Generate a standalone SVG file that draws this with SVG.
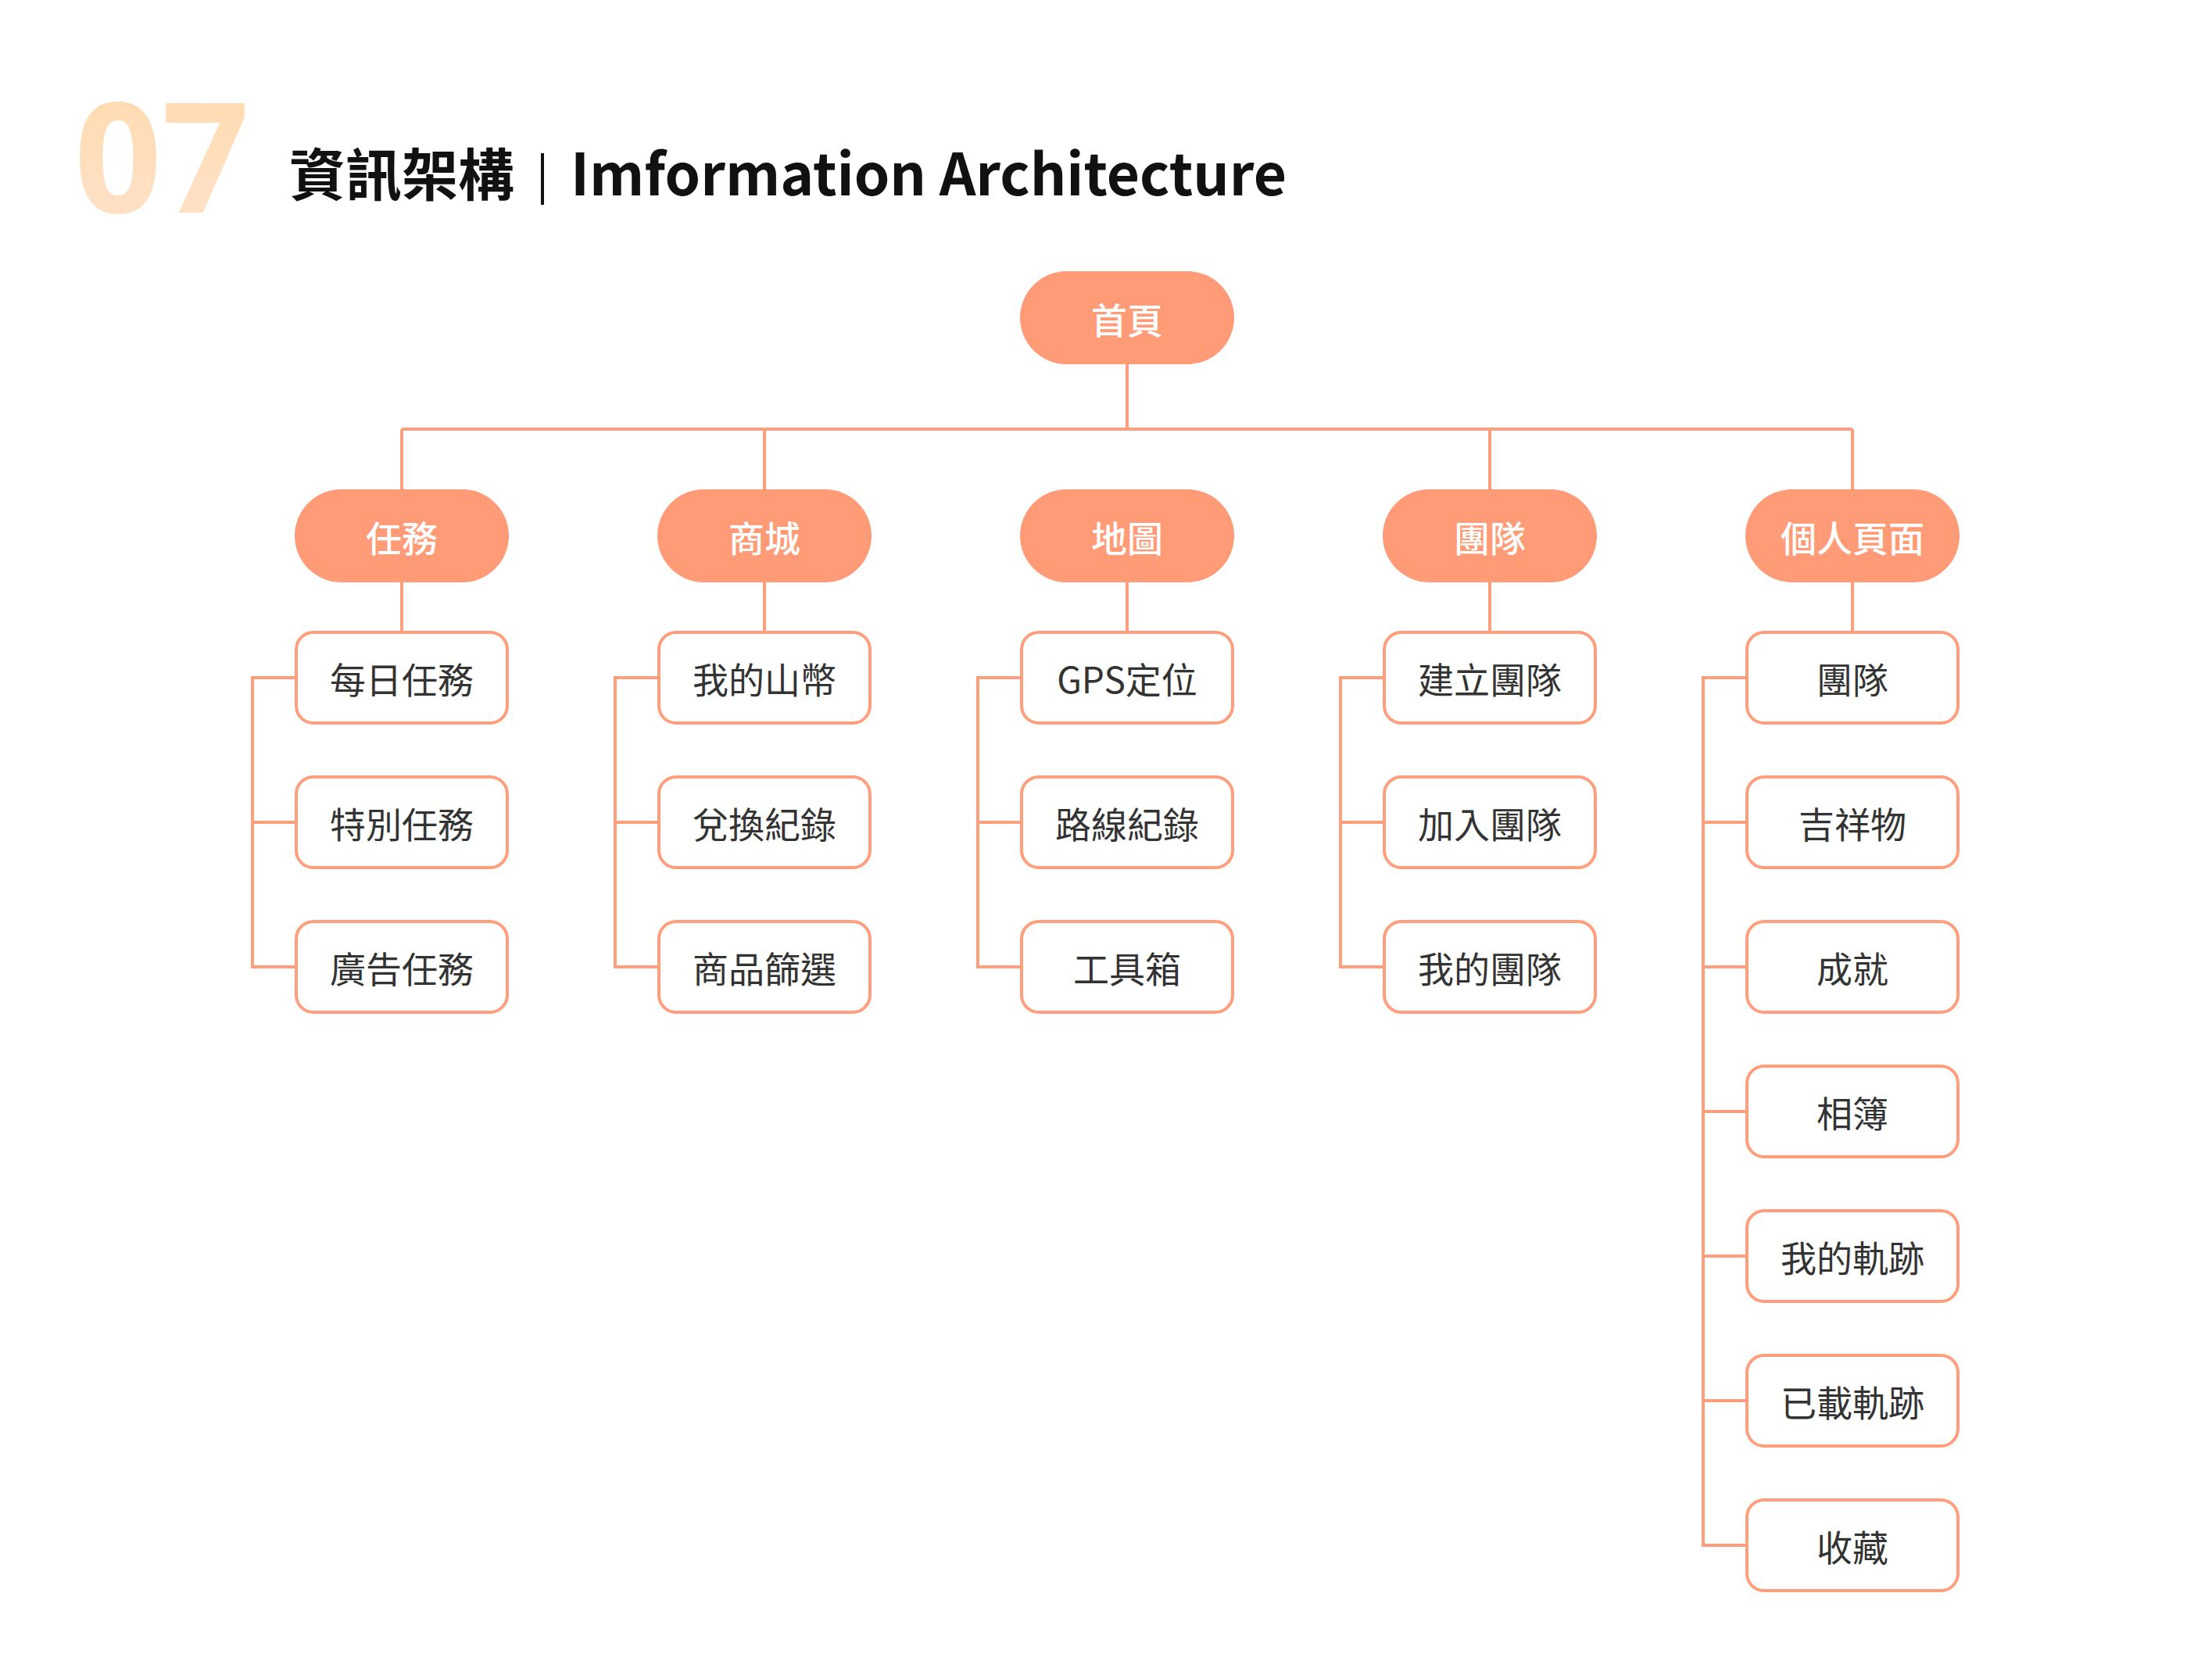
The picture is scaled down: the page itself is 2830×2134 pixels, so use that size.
<svg xmlns="http://www.w3.org/2000/svg" width="2830" height="2134" viewBox="0 0 2830 2134">
<defs>
<linearGradient id="g07" x1="0" y1="0" x2="0" y2="1"><stop offset="0" stop-color="#FFD9A8"/><stop offset="1" stop-color="#FFE3CF"/></linearGradient>
<style>
.pill{fill:#FF9B76}
.box{fill:#fff;stroke:#FF9E7C;stroke-width:4}
.pt{font-family:"Noto Sans CJK TC","Noto Sans",sans-serif;font-size:46px;font-weight:500;fill:#fff;text-anchor:middle;dominant-baseline:central}
.bt{font-family:"Noto Sans CJK TC","Noto Sans",sans-serif;font-size:46px;fill:#333;text-anchor:middle;dominant-baseline:central}
.ln{fill:none;stroke:#FF9E7C;stroke-width:4}
</style>
</defs>
<rect width="2830" height="2134" fill="#fff"/>
<g id="title">
<text x="95" y="272" font-family="'Noto Sans','Open Sans',sans-serif" font-weight="700" font-size="196" fill="url(#g07)">07</text>
<text x="370" y="250" font-family="'Noto Sans CJK TC',sans-serif" font-weight="700" font-size="72" fill="#111">資訊架構</text>
<line x1="694" y1="196" x2="694" y2="262" stroke="#111" stroke-width="4"/>
<text x="730" y="250" font-family="'Noto Sans CJK TC','Noto Sans',sans-serif" font-weight="700" font-size="74" fill="#111" textLength="916" lengthAdjust="spacingAndGlyphs">Imformation Architecture</text>
</g>
<g id="connectors" class="ln">
<path d="M1442 466V549M514 549H2370M514 549V626M978 549V626M1906 549V626M2370 549V626"/>
<path d="M514 745V807M978 745V807M1442 745V807M1906 745V807M2370 745V807"/>
<path d="M377 867H323V1237H377M323 1052H377"/>
<path d="M841 867H787V1237H841M787 1052H841"/>
<path d="M1305 867H1251V1237H1305M1251 1052H1305"/>
<path d="M1769 867H1715V1237H1769M1715 1052H1769"/>
<path d="M2233 867H2179V1977H2233M2179 1052H2233M2179 1237H2233M2179 1422H2233M2179 1607H2233M2179 1792H2233"/>
</g>
<g id="root"><rect class="pill" x="1305" y="347" width="274" height="119" rx="59.5"/><text class="pt" x="1442" y="407">首頁</text></g>
<g id="n1"><rect class="pill" x="377" y="626" width="274" height="119" rx="59.5"/><text class="pt" x="514" y="686">任務</text></g>
<g id="n2"><rect class="pill" x="841" y="626" width="274" height="119" rx="59.5"/><text class="pt" x="978" y="686">商城</text></g>
<g id="n3"><rect class="pill" x="1305" y="626" width="274" height="119" rx="59.5"/><text class="pt" x="1442" y="686">地圖</text></g>
<g id="n4"><rect class="pill" x="1769" y="626" width="274" height="119" rx="59.5"/><text class="pt" x="1906" y="686">團隊</text></g>
<g id="n5"><rect class="pill" x="2233" y="626" width="274" height="119" rx="59.5"/><text class="pt" x="2370" y="686">個人頁面</text></g>
<g id="c1a"><rect class="box" x="379" y="809" width="270" height="116" rx="22"/><text class="bt" x="514" y="867">每日任務</text></g>
<g id="c1b"><rect class="box" x="379" y="994" width="270" height="116" rx="22"/><text class="bt" x="514" y="1052">特別任務</text></g>
<g id="c1c"><rect class="box" x="379" y="1179" width="270" height="116" rx="22"/><text class="bt" x="514" y="1237">廣告任務</text></g>
<g id="c2a"><rect class="box" x="843" y="809" width="270" height="116" rx="22"/><text class="bt" x="978" y="867">我的山幣</text></g>
<g id="c2b"><rect class="box" x="843" y="994" width="270" height="116" rx="22"/><text class="bt" x="978" y="1052">兌換紀錄</text></g>
<g id="c2c"><rect class="box" x="843" y="1179" width="270" height="116" rx="22"/><text class="bt" x="978" y="1237">商品篩選</text></g>
<g id="c3a"><rect class="box" x="1307" y="809" width="270" height="116" rx="22"/><text class="bt" x="1442" y="867">GPS定位</text></g>
<g id="c3b"><rect class="box" x="1307" y="994" width="270" height="116" rx="22"/><text class="bt" x="1442" y="1052">路線紀錄</text></g>
<g id="c3c"><rect class="box" x="1307" y="1179" width="270" height="116" rx="22"/><text class="bt" x="1442" y="1237">工具箱</text></g>
<g id="c4a"><rect class="box" x="1771" y="809" width="270" height="116" rx="22"/><text class="bt" x="1906" y="867">建立團隊</text></g>
<g id="c4b"><rect class="box" x="1771" y="994" width="270" height="116" rx="22"/><text class="bt" x="1906" y="1052">加入團隊</text></g>
<g id="c4c"><rect class="box" x="1771" y="1179" width="270" height="116" rx="22"/><text class="bt" x="1906" y="1237">我的團隊</text></g>
<g id="c5a"><rect class="box" x="2235" y="809" width="270" height="116" rx="22"/><text class="bt" x="2370" y="867">團隊</text></g>
<g id="c5b"><rect class="box" x="2235" y="994" width="270" height="116" rx="22"/><text class="bt" x="2370" y="1052">吉祥物</text></g>
<g id="c5c"><rect class="box" x="2235" y="1179" width="270" height="116" rx="22"/><text class="bt" x="2370" y="1237">成就</text></g>
<g id="c5d"><rect class="box" x="2235" y="1364" width="270" height="116" rx="22"/><text class="bt" x="2370" y="1422">相簿</text></g>
<g id="c5e"><rect class="box" x="2235" y="1549" width="270" height="116" rx="22"/><text class="bt" x="2370" y="1607">我的軌跡</text></g>
<g id="c5f"><rect class="box" x="2235" y="1734" width="270" height="116" rx="22"/><text class="bt" x="2370" y="1792">已載軌跡</text></g>
<g id="c5g"><rect class="box" x="2235" y="1919" width="270" height="116" rx="22"/><text class="bt" x="2370" y="1977">收藏</text></g>
</svg>
